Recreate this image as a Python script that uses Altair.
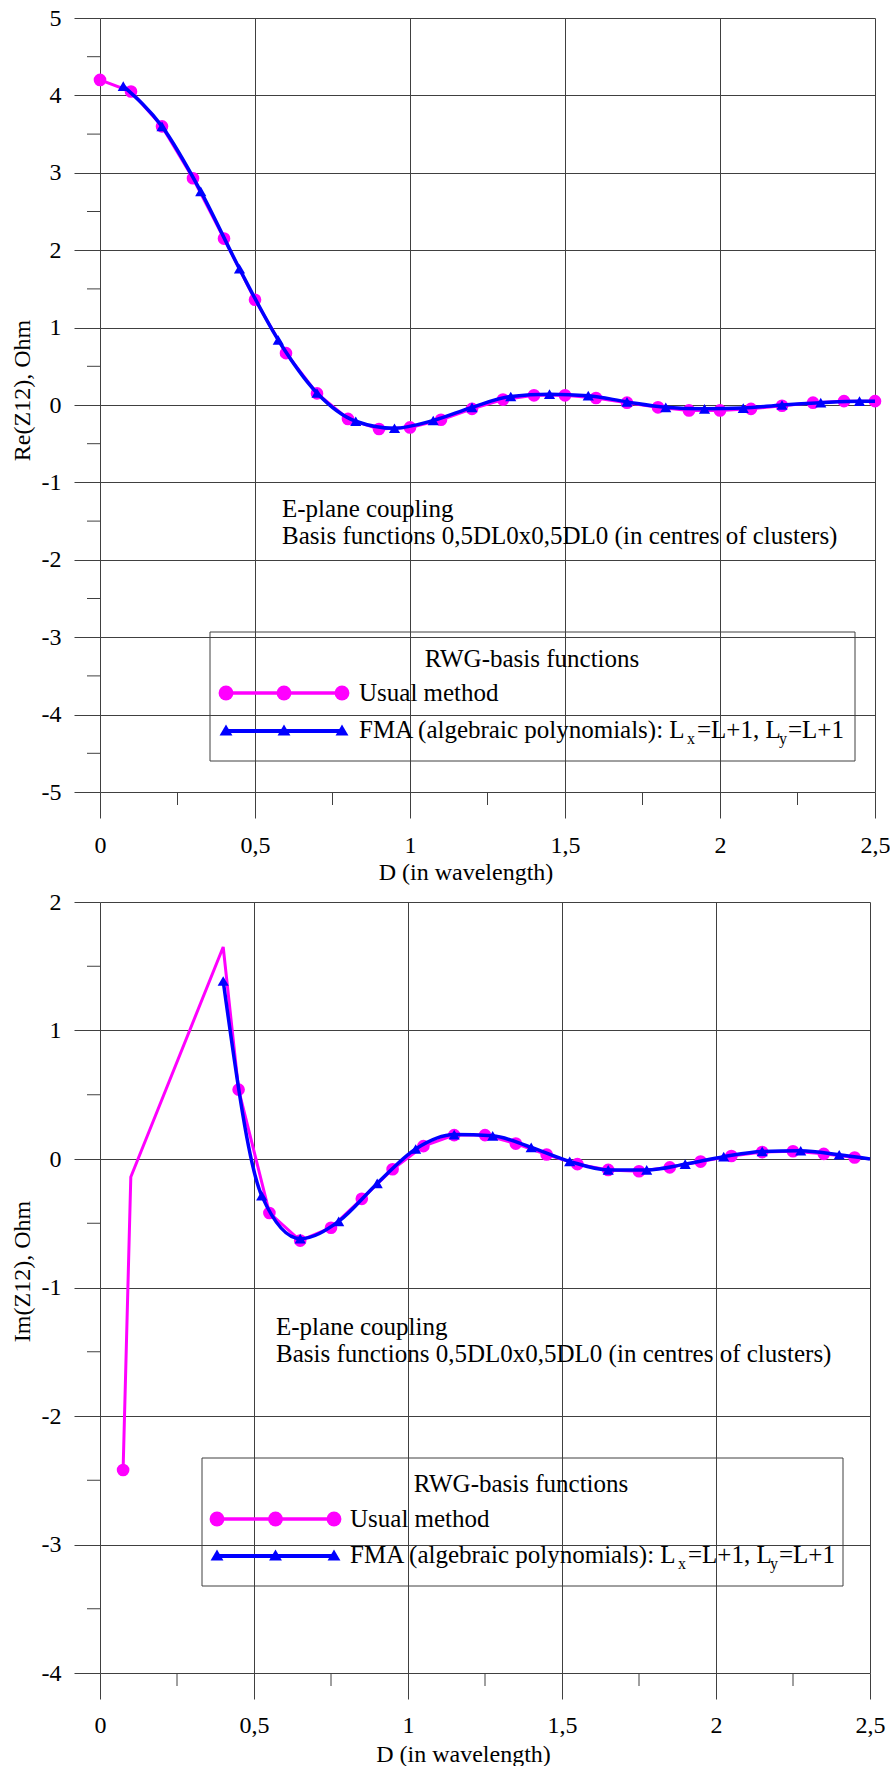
import altair as alt
import pandas as pd

FONT = "Liberation Serif"
MAGENTA = "#FF00FF"
BLUE = "#0000FF"
GRID = "#404040"

# ---------------- data ----------------
x_ticks = [0, 0.5, 1, 1.5, 2, 2.5]
x_minor = [0.25, 0.75, 1.25, 1.75, 2.25]

# Top panel: Re(Z12)
re_usual_x = [0, 0.1, 0.2, 0.3, 0.4, 0.5, 0.6, 0.7, 0.8, 0.9, 1.0, 1.1, 1.2,
              1.3, 1.4, 1.5, 1.6, 1.7, 1.8, 1.9, 2.0, 2.1, 2.2, 2.3, 2.4, 2.5]
re_usual_y = [4.20, 4.05, 3.60, 2.93, 2.15, 1.36, 0.67, 0.15, -0.18, -0.31, -0.29, -0.19, -0.05,
              0.07, 0.125, 0.125, 0.09, 0.03, -0.03, -0.07, -0.07, -0.05, -0.01, 0.03, 0.05, 0.05]
re_usual_mk = [True] * 26

re_fma_x = [0.075, 0.2, 0.325, 0.45, 0.575, 0.7, 0.825, 0.95, 1.075, 1.2, 1.325,
            1.45, 1.575, 1.7, 1.825, 1.95, 2.075, 2.2, 2.325, 2.45, 2.5]
re_fma_y = [4.12, 3.60, 2.76, 1.76, 0.84, 0.155, -0.21, -0.30, -0.20, -0.03, 0.11,
            0.14, 0.12, 0.04, -0.03, -0.05, -0.04, 0.0, 0.03, 0.05, 0.05]
re_fma_mk = [True] * 20 + [False]

re_y_ticks = [5, 4, 3, 2, 1, 0, -1, -2, -3, -4, -5]
re_y_minor = [4.5, 3.5, 2.5, 1.5, 0.5, -0.5, -1.5, -2.5, -3.5, -4.5]

# Bottom panel: Im(Z12)
im_usual_x = [0.075, 0.1, 0.4, 0.45, 0.55, 0.65, 0.75, 0.85, 0.95, 1.05, 1.15, 1.25,
              1.35, 1.45, 1.55, 1.65, 1.75, 1.85, 1.95, 2.05, 2.15, 2.25, 2.35, 2.45]
im_usual_y = [-2.42, -0.14, 1.65, 0.54, -0.42, -0.635, -0.535, -0.31, -0.08, 0.10, 0.186, 0.186,
              0.12, 0.035, -0.04, -0.085, -0.095, -0.065, -0.02, 0.023, 0.054, 0.06, 0.04, 0.012]
im_usual_mk = [True, False, False] + [True] * 21

im_fma_x = [0.4, 0.525, 0.65, 0.775, 0.9, 1.025, 1.15, 1.275, 1.4, 1.525, 1.65,
            1.775, 1.9, 2.025, 2.15, 2.275, 2.4, 2.5]
im_fma_y = [1.385, -0.285, -0.62, -0.485, -0.19, 0.078, 0.19, 0.18, 0.09, -0.018, -0.085,
            -0.085, -0.04, 0.018, 0.059, 0.064, 0.033, 0.0]
im_fma_mk = [True] * 17 + [False]

im_y_ticks = [2, 1, 0, -1, -2, -3, -4]
im_y_minor = [1.5, 0.5, -0.5, -1.5, -2.5, -3.5]

note_line1 = "E-plane coupling"
note_line2 = "Basis functions 0,5DL0x0,5DL0 (in centres of clusters)"
legend_title = "RWG-basis functions"
usual_label = "Usual method"
fma_parts = ["FMA (algebraic polynomials): L", "x", "=L+1, L", "y", "=L+1"]

DUMMY = pd.DataFrame({"d": [0]})


def txt(s, x, y, size=25, align="left"):
    return alt.Chart(DUMMY).mark_text(
        align=align, baseline="alphabetic", font=FONT, fontSize=size, color="black"
    ).encode(x=alt.value(x), y=alt.value(y), text=alt.value(s))


def panel(ux, uy, umk, fx, fy, fmk, ydom, yticks, yminor, ytitle, W, H,
          ytitle_y, xlab_pad, xtitle_y, note_xy, box, title_xy, row_u, row_f, sample_x, text_x):
    usual = pd.DataFrame({"D": ux, "v": uy, "m": umk})
    fma = pd.DataFrame({"D": fx, "v": fy, "m": fmk})
    xs = alt.Scale(domain=[0, 2.5], nice=False, zero=False)
    ys = alt.Scale(domain=ydom, nice=False, zero=False)

    xaxis = alt.Axis(values=x_ticks, title="D (in wavelength)", grid=True,
                     labelExpr="replace(toString(datum.value), '.', ',')",
                     labelBaseline="middle", labelPadding=xlab_pad, labelFlush=False,
                     labelOverlap=False,
                     titleX=W / 2 - 22, titleY=xtitle_y, titleBaseline="middle", titleAlign="center")
    yaxis = alt.Axis(values=yticks, title=ytitle, grid=True,
                     labelExpr="toString(datum.value)", labelPadding=13,
                     labelFlush=False, labelOverlap=False,
                     titleX=-78, titleY=ytitle_y, titleAngle=270,
                     titleBaseline="middle", titleAlign="center")

    base_u = alt.Chart(usual)
    base_f = alt.Chart(fma)

    u_line = base_u.mark_line(color=MAGENTA, strokeWidth=3, interpolate="linear").encode(
        x=alt.X("D:Q", scale=xs, axis=xaxis), y=alt.Y("v:Q", scale=ys, axis=yaxis))
    u_pts = base_u.transform_filter("datum.m").mark_point(
        filled=True, shape="circle", size=160, color=MAGENTA, opacity=1).encode(
        x=alt.X("D:Q", scale=xs), y=alt.Y("v:Q", scale=ys))
    f_line = base_f.mark_line(color=BLUE, strokeWidth=3.5, interpolate="monotone").encode(
        x=alt.X("D:Q", scale=xs), y=alt.Y("v:Q", scale=ys))
    f_pts = base_f.transform_filter("datum.m").mark_point(
        filled=True, shape="triangle-up", size=125, color=BLUE, opacity=1).encode(
        x=alt.X("D:Q", scale=xs), y=alt.Y("v:Q", scale=ys))

    mx = alt.Chart(pd.DataFrame({"t": x_minor})).mark_rule(color=GRID, strokeWidth=1).encode(
        x=alt.X("t:Q", scale=xs), y=alt.value(H), y2=alt.value(H + 13))
    my = alt.Chart(pd.DataFrame({"t": yminor})).mark_rule(color=GRID, strokeWidth=1).encode(
        y=alt.Y("t:Q", scale=ys), x=alt.value(0), x2=alt.value(-13))

    nx, ny = note_xy
    notes = [txt(note_line1, nx, ny), txt(note_line2, nx, ny + 27)]

    bl, br, bt, bb = box
    frame = alt.Chart(DUMMY).mark_rect(fillOpacity=0, stroke=GRID, strokeWidth=1).encode(
        x=alt.value(bl), x2=alt.value(br), y=alt.value(bt), y2=alt.value(bb))
    title = txt(legend_title, title_xy[0], title_xy[1], align="center")

    s0, s1 = sample_x
    sm = (s0 + s1) / 2
    leg = [frame, title]
    leg.append(alt.Chart(DUMMY).mark_rule(color=MAGENTA, strokeWidth=3.3).encode(
        x=alt.value(s0), x2=alt.value(s1), y=alt.value(row_u)))
    leg.append(alt.Chart(DUMMY).mark_rule(color=BLUE, strokeWidth=4).encode(
        x=alt.value(s0), x2=alt.value(s1), y=alt.value(row_f)))
    for px in (s0, sm, s1):
        leg.append(alt.Chart(DUMMY).mark_point(filled=True, shape="circle", size=220,
                                                color=MAGENTA, opacity=1).encode(
            x=alt.value(px), y=alt.value(row_u)))
        leg.append(alt.Chart(DUMMY).mark_point(filled=True, shape="triangle-up", size=165,
                                                color=BLUE, opacity=1).encode(
            x=alt.value(px), y=alt.value(row_f - 1)))
    leg.append(txt(usual_label, text_x, row_u + 8))
    fb = row_f + 7
    leg.append(txt(fma_parts[0], text_x, fb))
    leg.append(txt(fma_parts[1], text_x + 328, fb + 6, size=16))
    leg.append(txt(fma_parts[2], text_x + 338, fb))
    leg.append(txt(fma_parts[3], text_x + 420, fb + 6, size=16))
    leg.append(txt(fma_parts[4], text_x + 429, fb))

    return alt.layer(u_line, mx, my, u_pts, f_line, f_pts, *notes, *leg).properties(
        width=W, height=H)


top = panel(re_usual_x, re_usual_y, re_usual_mk, re_fma_x, re_fma_y, re_fma_mk,
            [-5, 5], re_y_ticks, re_y_minor, "Re(Z12), Ohm", 775, 774,
            372, 27, 80, (182, 499), (110, 755, 614, 743), (432, 649), 675, 713, (126, 242), 259)
bottom = panel(im_usual_x, im_usual_y, im_usual_mk, im_fma_x, im_fma_y, im_fma_mk,
               [-4, 2], im_y_ticks, im_y_minor, "Im(Z12), Ohm", 770, 771,
               369, 26, 81, (176, 433), (102, 743, 556, 684), (421, 590), 617, 654, (117, 234), 250)

chart = alt.vconcat(top, bottom, spacing=110, bounds="flush").resolve_scale(
    x="independent", y="independent"
).configure_view(strokeWidth=0).configure_axis(
    labelFont=FONT, labelFontSize=24, labelColor="black",
    titleFont=FONT, titleFontSize=24, titleFontWeight="normal", titleColor="black",
    tickColor=GRID, tickSize=26, tickWidth=1,
    gridColor=GRID, gridWidth=1, gridOpacity=1, domain=False
).properties(
    padding={"left": 10, "top": 6, "right": 0, "bottom": 0},
    background="white"
)

chart.save("out.html", embed_options={"renderer": "svg", "actions": False})
